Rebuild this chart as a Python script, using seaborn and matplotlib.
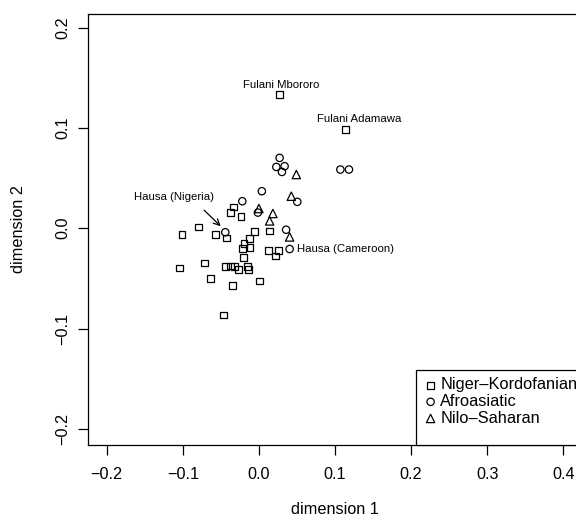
import numpy as np
import pandas as pd
import matplotlib
matplotlib.use("Agg")
import matplotlib.pyplot as plt
from matplotlib.patches import Rectangle
import seaborn as sns

# MDS coordinates of populations, grouped by language family
nk_x = [0.0267, 0.1141, -0.1011, -0.1043, -0.0793, -0.0572, -0.0714, -0.0636,
        -0.0461, -0.0333, -0.0372, -0.0234, -0.0429, -0.0063, 0.0141, -0.0122,
        -0.0195, -0.0214, -0.0116, 0.0121, 0.0253, 0.0220, -0.0205, -0.0438,
        -0.0376, -0.0316, -0.0263, -0.0145, -0.0132, -0.0342, 0.0009]
nk_y = [0.1333, 0.0987, -0.0063, -0.0396, 0.0013, -0.0065, -0.0347, -0.0500,
        -0.0864, 0.0212, 0.0155, 0.0120, -0.0097, -0.0030, -0.0028, -0.0105,
        -0.0153, -0.0199, -0.0196, -0.0222, -0.0219, -0.0276, -0.0289, -0.0379,
        -0.0376, -0.0379, -0.0412, -0.0379, -0.0412, -0.0568, -0.0525]

aa_x = [-0.0442, 0.0404, 0.0272, 0.0229, 0.0338, 0.0303, 0.1071, 0.1184,
        0.0039, 0.0505, -0.0218, -0.0013, 0.0358]
aa_y = [-0.0040, -0.0207, 0.0701, 0.0611, 0.0618, 0.0561, 0.0585, 0.0585,
        0.0369, 0.0263, 0.0269, 0.0156, -0.0015]

ns_x = [0.0492, 0.0426, 0.0000, 0.0184, 0.0141, 0.0404]
ns_y = [0.0535, 0.0319, 0.0196, 0.0147, 0.0073, -0.0087]

families = ["Niger\u2013Kordofanian", "Afroasiatic", "Nilo\u2013Saharan"]
x_ticks = [-0.2, -0.1, 0.0, 0.1, 0.2, 0.3, 0.4]
y_ticks = [-0.2, -0.1, 0.0, 0.1, 0.2]

# labelled populations: (name, family index, point index)
named = [("Fulani Mbororo", 0, 0), ("Fulani Adamawa", 0, 1),
         ("Hausa (Nigeria)", 1, 0), ("Hausa (Cameroon)", 1, 1)]

df = pd.concat([
    pd.DataFrame({"d1": nk_x, "d2": nk_y, "family": families[0]}),
    pd.DataFrame({"d1": aa_x, "d2": aa_y, "family": families[1]}),
    pd.DataFrame({"d1": ns_x, "d2": ns_y, "family": families[2]}),
], ignore_index=True)

sns.set_theme(style="ticks")
plt.rcParams["font.family"] = ["Liberation Sans", "DejaVu Sans"]
plt.rcParams["text.color"] = "black"

fig = plt.figure(figsize=(5.76, 5.24), dpi=100)
ax = fig.add_axes([0.1536, 0.1508, 0.8559, 0.8225])

markers = {families[0]: ("s", 24), families[1]: ("o", 28), families[2]: ("^", 36)}
for fam in families:
    sub = df[df["family"] == fam]
    mk, sz = markers[fam]
    sns.scatterplot(data=sub, x="d1", y="d2", marker=mk, s=sz, ax=ax,
                    label=fam, legend=False)
for coll in ax.collections:
    coll.set_facecolor("none")
    coll.set_edgecolor("black")
    coll.set_linewidth(0.9)


def fmt(v):
    s = f"{v:.1f}"
    return s.replace("-", "\u2212")


ax.set_xlim(-0.224, 0.424)
ax.set_ylim(-0.216, 0.2135)
ax.set_xticks(x_ticks)
ax.set_yticks(y_ticks)
ax.set_xticklabels([fmt(v) for v in x_ticks])
ax.set_yticklabels([fmt(v) for v in y_ticks], rotation=90, va="center")
ax.tick_params(axis="both", direction="out", length=7.2, width=0.9,
               color="black", labelsize=11.7, labelcolor="black")
ax.tick_params(axis="x", pad=9)
ax.tick_params(axis="y", pad=6)
for sp in ax.spines.values():
    sp.set_visible(True)
    sp.set_color("black")
    sp.set_linewidth(0.9)

ax.set_xlabel("dimension 1", fontsize=11.7, color="black", labelpad=14)
ax.set_ylabel("dimension 2", fontsize=11.7, color="black", labelpad=21)

# population labels
pts = [(nk_x, nk_y), (aa_x, aa_y), (ns_x, ns_y)]
fx, fy = pts[0][0][0], pts[0][1][0]
ax.annotate(named[0][0], (fx, fy), xytext=(1.5, 7), textcoords="offset points",
            ha="center", va="center", fontsize=8.2, color="black")
fx, fy = pts[0][0][1], pts[0][1][1]
ax.annotate(named[1][0], (fx, fy), xytext=(9.5, 7), textcoords="offset points",
            ha="center", va="center", fontsize=8.2, color="black")
fx, fy = pts[1][0][1], pts[1][1][1]
ax.annotate(named[3][0], (fx, fy), xytext=(5.5, 0), textcoords="offset points",
            ha="left", va="center", fontsize=8.2, color="black")
hx, hy = pts[1][0][0], pts[1][1][0]
ax.text(-0.112, 0.031, named[2][0], ha="center", va="center", fontsize=8.2, color="black")
ax.annotate("", xy=(hx - 0.006, hy + 0.006), xytext=(-0.072, 0.018),
            arrowprops=dict(arrowstyle="->", color="black", lw=0.9,
                            shrinkA=0, shrinkB=0, mutation_scale=11))

# legend box in the lower right corner
ax.add_patch(Rectangle((0.664, 0.0), 0.4, 0.174, transform=ax.transAxes,
                       facecolor="white", edgecolor="black", linewidth=0.9,
                       zorder=3, clip_on=False))
leg = ax.legend(loc="upper left", bbox_to_anchor=(0.674, 0.168), frameon=False,
                fontsize=11.8, handlelength=0.6, handletextpad=0.3,
                borderpad=0.3, borderaxespad=0.0, labelspacing=0.1,
                scatterpoints=1, labelcolor="black")
leg.set_zorder(4)

fig.savefig("out.png", dpi=100)
